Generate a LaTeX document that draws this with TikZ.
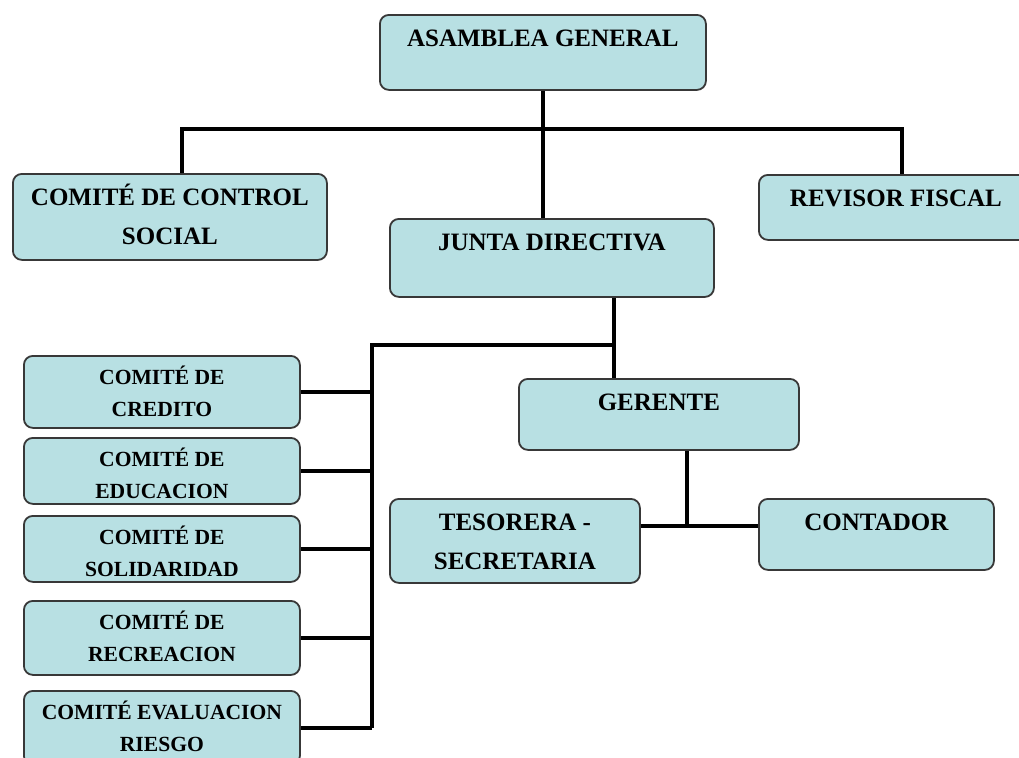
\documentclass[tikz,border=0pt]{standalone}
\usepackage{fontspec}
\setmainfont{Liberation Serif}
\newlength{\du}
\setlength{\du}{0.75pt}
\definecolor{boxfill}{rgb}{0.722, 0.878, 0.890}
\definecolor{boxline}{rgb}{0.220, 0.220, 0.220}
% text of a box: width, height, label (top aligned)
\newcommand{\orgtext}[3]{\parbox[t][#2\du][t]{#1\du}{\centering\rule{0pt}{32\du}#3}}
\newcommand{\comtext}[3]{\parbox[t][#2\du][t]{#1\du}{\centering\rule{0pt}{29\du}#3}}
\tikzset{
  orgbox/.style={draw=boxline, fill=boxfill, line width=1.8\du, rounded corners=9\du,
    inner sep=0pt, anchor=north west, font=\bfseries\fontsize{18.75}{29.25}\selectfont},
  combox/.style={orgbox, font=\bfseries\fontsize{16.2}{24}\selectfont},
  orgline/.style={draw=black, line width=4\du}
}
\begin{document}
\begin{tikzpicture}
\pgftransformxscale{1.000000}
\pgftransformyscale{-1.000000}
\useasboundingbox (0\du,0\du) rectangle (1019\du,757\du);
% upper level
\node[orgbox] (asamblea) at (379\du,14\du) {\orgtext{326}{75}{ASAMBLEA GENERAL}};
\node[orgbox] (control) at (12\du,173\du) {\orgtext{314}{86}{COMITÉ DE CONTROL\\SOCIAL}};
\node[orgbox] (revisor) at (758\du,174\du) {\orgtext{274}{65}{REVISOR FISCAL}};
\node[orgbox] (junta) at (389\du,218\du) {\orgtext{324}{78}{JUNTA DIRECTIVA}};
\node[orgbox] (gerente) at (518\du,378\du) {\orgtext{280}{71}{GERENTE}};
\node[orgbox] (tesorera) at (389\du,498\du) {\orgtext{250}{84}{TESORERA -\\SECRETARIA}};
\node[orgbox] (contador) at (758\du,498\du) {\orgtext{235}{71}{CONTADOR}};
% comites
\node[combox] (cred) at (23\du,355\du) {\comtext{276}{72}{COMITÉ DE\\CREDITO}};
\node[combox] (educ) at (23\du,437\du) {\comtext{276}{66}{COMITÉ DE\\EDUCACION}};
\node[combox] (soli) at (23\du,515\du) {\comtext{276}{66}{COMITÉ DE\\SOLIDARIDAD}};
\node[combox] (recr) at (23\du,600\du) {\comtext{276}{74}{COMITÉ DE\\RECREACION}};
\node[combox] (ries) at (23\du,690\du) {\comtext{276}{74}{COMITÉ EVALUACION\\RIESGO}};
% connectors
\coordinate (barL) at (182\du,129\du);
\coordinate (barR) at (902\du,129\du);
\coordinate (busT) at (614\du,345\du);
\coordinate (busL) at (372\du,345\du);
\coordinate (gerB) at (687\du,526\du);
\draw[orgline] (asamblea.south) -- (asamblea.south |- junta.north);
\draw[orgline] (barL |- control.north) -- (barL) -- (barR) -- (barR |- revisor.north);
\draw[orgline] (busT |- junta.south) -- (busT |- gerente.north);
\draw[orgline] (busT) -- (busL) -- (busL |- ries.east);
\foreach \n in {cred,educ,soli,recr,ries}
  \draw[orgline] (\n.east) -- (\n.east -| busL);
\draw[orgline] (gerB |- gerente.south) -- (gerB);
\draw[orgline] (tesorera.east |- gerB) -- (contador.west |- gerB);
\end{tikzpicture}
\end{document}
